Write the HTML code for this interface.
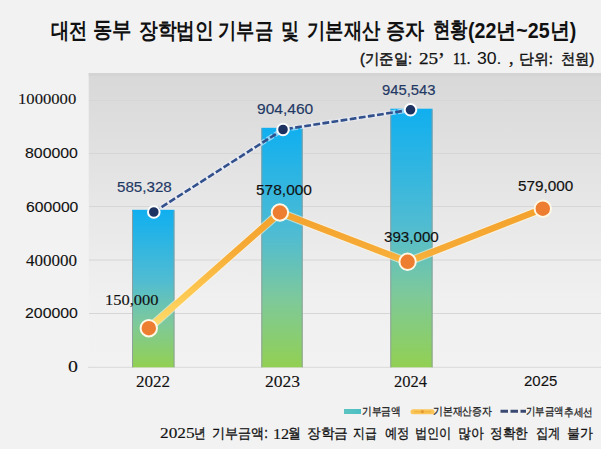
<!DOCTYPE html>
<html><head><meta charset="utf-8">
<style>
html,body{margin:0;padding:0;width:601px;height:449px;overflow:hidden;background:#f2f2f2;}
.t{position:absolute;white-space:nowrap;line-height:1;transform-origin:0 0;}
.s{font-family:"Liberation Sans",sans-serif;}
.r{font-family:"Liberation Serif",serif;}
</style></head><body>
<svg width="601" height="449" style="position:absolute;left:0;top:0">
<defs>
<linearGradient id="bg" x1="0" y1="0" x2="0" y2="1">
<stop offset="0" stop-color="#d8d8d8"/><stop offset="0.3" stop-color="#e2e2e2"/><stop offset="0.45" stop-color="#e7e7e7"/><stop offset="0.77" stop-color="#f0f0f0"/><stop offset="1" stop-color="#f2f2f2"/>
</linearGradient>
<linearGradient id="bar" x1="0" y1="0" x2="0" y2="1">
<stop offset="0" stop-color="#10aff0"/><stop offset="0.45" stop-color="#50bcd2"/><stop offset="0.72" stop-color="#7ec99a"/><stop offset="1" stop-color="#92d052"/>
</linearGradient>
<linearGradient id="ln" gradientUnits="userSpaceOnUse" x1="0" y1="208" x2="0" y2="328">
<stop offset="0" stop-color="#f3a22c"/><stop offset="0.35" stop-color="#f6ab36"/><stop offset="0.7" stop-color="#fdc750"/><stop offset="1" stop-color="#ffdc6c"/>
</linearGradient>
<linearGradient id="lg1" x1="0" y1="0" x2="1" y2="0">
<stop offset="0" stop-color="#5cc4c0"/><stop offset="1" stop-color="#4cbfc4"/>
</linearGradient>
</defs>
<rect x="88.7" y="73" width="512.3" height="294.5" fill="url(#bg)"/>
<rect x="88.7" y="73" width="512.3" height="3" fill="#d4d4d4"/>
<g stroke="#d6d6d6" stroke-width="1">
<line x1="89" y1="100.5" x2="601" y2="100.5"/>
<line x1="89" y1="153.5" x2="601" y2="153.5"/>
<line x1="89" y1="206.5" x2="601" y2="206.5"/>
<line x1="89" y1="260" x2="601" y2="260"/>
<line x1="89" y1="313.5" x2="601" y2="313.5"/>
<line x1="88" y1="367.3" x2="601" y2="367.3" stroke="#d9d9d9"/>
</g>
<rect x="132.1" y="209.8" width="42.3" height="157.5" fill="url(#bar)"/>
<rect x="261.4" y="127.8" width="41.2" height="239.5" fill="url(#bar)"/>
<rect x="390.4" y="108.7" width="42.1" height="258.6" fill="url(#bar)"/>
<g stroke="#8d9c9c" stroke-width="0.9">
<line x1="132.5" y1="210.8" x2="132.5" y2="367.3"/><line x1="174.0" y1="210.8" x2="174.0" y2="367.3"/>
<line x1="261.8" y1="128.8" x2="261.8" y2="367.3"/><line x1="302.2" y1="128.8" x2="302.2" y2="367.3"/>
<line x1="390.8" y1="109.7" x2="390.8" y2="367.3"/><line x1="432.1" y1="109.7" x2="432.1" y2="367.3"/>
</g>
<polyline points="148.8,328.2 279.9,212.5 407.6,261.8 542.8,208.7" fill="none" stroke="#fff6e0" stroke-opacity="0.6" stroke-width="8.5" stroke-linejoin="round"/>
<polyline points="148.8,328.2 279.9,212.5 407.6,261.8 542.8,208.7" fill="none" stroke="url(#ln)" stroke-width="6.5" stroke-linejoin="round"/>
<polyline points="153.8,212 283,129.5 410.5,109.8" fill="none" stroke="#eef3ff" stroke-opacity="0.55" stroke-width="5" stroke-dasharray="7 2" stroke-dashoffset="0.5"/>
<polyline points="153.8,212 283,129.5 410.5,109.8" fill="none" stroke="#32508c" stroke-width="2.6" stroke-dasharray="6.8 2.4"/>
<g fill="#ed7d31" stroke="#fff8e6" stroke-width="2">
<circle cx="148.8" cy="328.2" r="8.2"/>
<circle cx="279.9" cy="212.5" r="8.2"/>
<circle cx="407.6" cy="261.8" r="8.2"/>
<circle cx="542.8" cy="208.7" r="8.2"/>
</g>
<g fill="#1d3260" stroke="#fbfdff" stroke-width="2">
<circle cx="153.8" cy="212" r="5.8"/>
<circle cx="283" cy="129.5" r="5.8"/>
<circle cx="410.5" cy="109.8" r="5.8"/>
</g>
<rect x="344" y="409" width="17" height="5" fill="url(#lg1)"/>
<line x1="413" y1="411.7" x2="432" y2="411.7" stroke="#fac65a" stroke-width="5" stroke-linecap="round"/>
<line x1="414" y1="411.7" x2="431" y2="411.7" stroke="#f5b640" stroke-width="1.5"/>
<circle cx="422.4" cy="411.7" r="1.6" fill="#e39a35"/>
<line x1="500.5" y1="411.2" x2="526" y2="411.2" stroke="#3a4a72" stroke-width="3" stroke-dasharray="7.5 2.5"/>
</svg>
<div class="t s" style="left:51.18px;top:21.00px;font-size:21.5px;font-weight:700;color:#111111;transform:scaleX(0.8295);">대전</div>
<div class="t s" style="left:93.11px;top:20.00px;font-size:21.5px;font-weight:700;color:#111111;transform:scaleX(0.8811);">동부</div>
<div class="t s" style="left:139.15px;top:21.00px;font-size:21.5px;font-weight:700;color:#111111;transform:scaleX(0.8518);">장학법인</div>
<div class="t s" style="left:218.16px;top:21.00px;font-size:21.5px;font-weight:700;color:#111111;transform:scaleX(0.8313);">기부금</div>
<div class="t s" style="left:280.99px;top:21.00px;font-size:21.5px;font-weight:700;color:#111111;transform:scaleX(0.8214);">및</div>
<div class="t s" style="left:306.78px;top:21.00px;font-size:21.5px;font-weight:700;color:#111111;transform:scaleX(0.8323);">기본재산</div>
<div class="t s" style="left:386.13px;top:21.00px;font-size:21.5px;font-weight:700;color:#111111;transform:scaleX(0.8698);">증자</div>
<div class="t s" style="left:433.20px;top:20.00px;font-size:21.5px;font-weight:700;color:#111111;transform:scaleX(0.7909);">현황</div>
<div class="t s" style="left:468.29px;top:20.60px;font-size:21.5px;font-weight:700;color:#111111;transform:scaleX(0.9111);">(22년~25년)</div>
<div class="t s" style="left:360.03px;top:51.00px;font-size:15px;color:#111111;-webkit-text-stroke:0.45px #111111;transform:scaleX(0.9616);">(기준일:</div>
<div class="t r" style="left:418.80px;top:51.00px;font-size:16px;color:#111111;-webkit-text-stroke:0.25px #111111;transform:scaleX(1.2000);">25</div>
<div class="t r" style="left:438.00px;top:50.00px;font-size:20px;color:#111111;-webkit-text-stroke:0.3px #111111;">’</div>
<div class="t r" style="left:453.14px;top:51.00px;font-size:16px;color:#111111;-webkit-text-stroke:0.4px #111111;transform:scaleX(0.8898);">11.</div>
<div class="t s" style="left:476.88px;top:51.00px;font-size:16px;color:#111111;-webkit-text-stroke:0.05px #111111;transform:scaleX(1.1005);">30.</div>
<div class="t r" style="left:509.00px;top:49.00px;font-size:18px;color:#111111;-webkit-text-stroke:0.3px #111111;">,</div>
<div class="t s" style="left:519.40px;top:51.00px;font-size:15px;color:#111111;-webkit-text-stroke:0.45px #111111;transform:scaleX(0.9938);">단위:</div>
<div class="t s" style="left:561.05px;top:51.00px;font-size:15px;color:#111111;-webkit-text-stroke:0.45px #111111;transform:scaleX(0.9516);">천원)</div>
<div class="t r" style="left:18.45px;top:91.40px;font-size:15.5px;color:#111111;-webkit-text-stroke:0.1px #111111;transform:scaleX(1.0731);">1000000</div>
<div class="t s" style="left:24.87px;top:146.40px;font-size:14px;color:#111111;-webkit-text-stroke:0.1px #111111;transform:scaleX(1.1333);">800000</div>
<div class="t s" style="left:25.67px;top:199.80px;font-size:14px;color:#111111;-webkit-text-stroke:0.1px #111111;transform:scaleX(1.1200);">600000</div>
<div class="t r" style="left:26.00px;top:253.40px;font-size:16px;color:#111111;-webkit-text-stroke:0.1px #111111;transform:scaleX(1.0625);">400000</div>
<div class="t s" style="left:24.87px;top:306.40px;font-size:14px;color:#111111;-webkit-text-stroke:0.1px #111111;transform:scaleX(1.1333);">200000</div>
<div class="t r" style="left:68.49px;top:358.60px;font-size:16px;color:#111111;-webkit-text-stroke:0.1px #111111;transform:scaleX(1.2416);">0</div>
<div class="t r" style="left:135.92px;top:373.60px;font-size:16px;color:#111111;-webkit-text-stroke:0.1px #111111;transform:scaleX(1.0669);">2022</div>
<div class="t r" style="left:264.92px;top:374.00px;font-size:16px;color:#111111;-webkit-text-stroke:0.1px #111111;transform:scaleX(1.0970);">2023</div>
<div class="t r" style="left:393.95px;top:374.00px;font-size:16px;color:#111111;-webkit-text-stroke:0.1px #111111;transform:scaleX(1.0325);">2024</div>
<div class="t s" style="left:523.97px;top:374.00px;font-size:14.5px;color:#111111;-webkit-text-stroke:0.1px #111111;transform:scaleX(1.0323);">2025</div>
<div class="t s" style="left:117.32px;top:180.20px;font-size:14px;color:#1f3864;-webkit-text-stroke:0.15px #1f3864;transform:scaleX(1.0816);">585,328</div>
<div class="t s" style="left:257.29px;top:101.60px;font-size:14px;color:#1f3864;-webkit-text-stroke:0.15px #1f3864;transform:scaleX(1.1102);">904,460</div>
<div class="t s" style="left:382.33px;top:82.80px;font-size:14px;color:#1f3864;-webkit-text-stroke:0.15px #1f3864;transform:scaleX(1.0573);">945,543</div>
<div class="t r" style="left:105.28px;top:291.80px;font-size:15.5px;color:#111111;-webkit-text-stroke:0.15px #111111;transform:scaleX(1.0625);">150,000</div>
<div class="t s" style="left:255.90px;top:182.80px;font-size:14px;color:#111111;-webkit-text-stroke:0.15px #111111;transform:scaleX(1.1061);">578,000</div>
<div class="t s" style="left:384.11px;top:229.60px;font-size:14px;color:#111111;-webkit-text-stroke:0.15px #111111;transform:scaleX(1.0817);">393,000</div>
<div class="t s" style="left:518.10px;top:179.00px;font-size:14px;color:#111111;-webkit-text-stroke:0.15px #111111;transform:scaleX(1.0939);">579,000</div>
<div class="t s" style="left:362.12px;top:406.00px;font-size:10.5px;color:#222;-webkit-text-stroke:0.3px #222;transform:scaleX(0.8810);">기부금액</div>
<div class="t s" style="left:433.10px;top:406.00px;font-size:10.5px;color:#222;-webkit-text-stroke:0.3px #222;transform:scaleX(0.8924);">기본재산증자</div>
<div class="t s" style="left:526.17px;top:406.00px;font-size:10.5px;color:#222;-webkit-text-stroke:0.3px #222;transform:scaleX(0.8578);">기부금액</div>
<div class="t s" style="left:564.16px;top:407.00px;font-size:10.5px;color:#222;-webkit-text-stroke:0.3px #222;transform:scaleX(0.8723);">추세선</div>
<div class="t r" style="left:160.46px;top:426.40px;font-size:15px;color:#111111;-webkit-text-stroke:0.15px #111111;transform:scaleX(1.1518);">2025</div>
<div class="t s" style="left:194.21px;top:426.40px;font-size:14px;color:#111111;-webkit-text-stroke:0.3px #111111;transform:scaleX(0.8356);">년</div>
<div class="t s" style="left:212.07px;top:426.00px;font-size:14px;color:#111111;-webkit-text-stroke:0.3px #111111;transform:scaleX(0.9310);">기부금액:</div>
<div class="t r" style="left:272.83px;top:426.60px;font-size:15px;color:#111111;-webkit-text-stroke:0.15px #111111;transform:scaleX(1.0833);">12</div>
<div class="t s" style="left:288.08px;top:426.40px;font-size:14px;color:#111111;-webkit-text-stroke:0.3px #111111;transform:scaleX(0.9167);">월</div>
<div class="t s" style="left:307.02px;top:426.00px;font-size:14px;color:#111111;-webkit-text-stroke:0.3px #111111;transform:scaleX(0.9750);">장학금</div>
<div class="t s" style="left:353.13px;top:426.00px;font-size:14px;color:#111111;-webkit-text-stroke:0.3px #111111;transform:scaleX(0.8466);">지급</div>
<div class="t s" style="left:385.12px;top:426.00px;font-size:14px;color:#111111;-webkit-text-stroke:0.3px #111111;transform:scaleX(0.8800);">예정</div>
<div class="t s" style="left:415.12px;top:426.00px;font-size:14px;color:#111111;-webkit-text-stroke:0.3px #111111;transform:scaleX(0.8720);">법인이</div>
<div class="t s" style="left:458.11px;top:426.00px;font-size:14px;color:#111111;-webkit-text-stroke:0.3px #111111;transform:scaleX(0.9275);">많아</div>
<div class="t s" style="left:490.09px;top:426.00px;font-size:14px;color:#111111;-webkit-text-stroke:0.3px #111111;transform:scaleX(0.9026);">정확한</div>
<div class="t s" style="left:536.12px;top:426.00px;font-size:14px;color:#111111;-webkit-text-stroke:0.3px #111111;transform:scaleX(0.8800);">집계</div>
<div class="t s" style="left:567.07px;top:426.00px;font-size:14px;color:#111111;-webkit-text-stroke:0.3px #111111;transform:scaleX(0.9259);">불가</div>
</body></html>
